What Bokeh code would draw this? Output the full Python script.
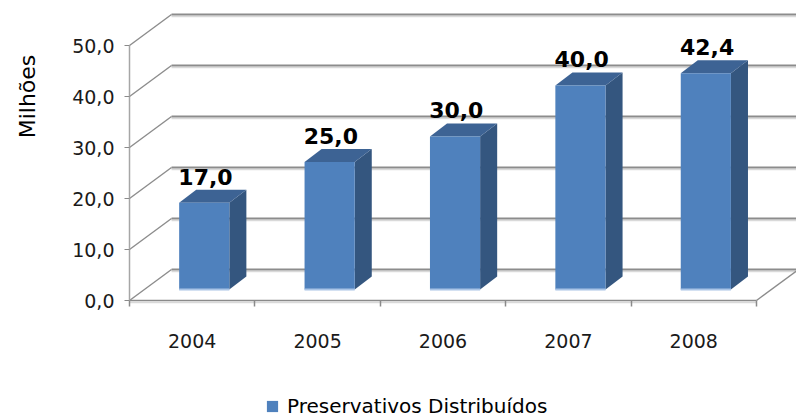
import numpy as np
from bokeh.plotting import figure
from bokeh.models import (Range1d, FixedTicker, CustomJSTickFormatter, ColumnDataSource,
                          Legend, LegendItem, Label)
from bokeh.core.properties import value
from bokeh.embed import file_html
from bokeh.resources import INLINE

# ---------------- data ----------------
years = ["2004", "2005", "2006", "2007", "2008"]
condoms = [17.0, 25.0, 30.0, 40.0, 42.4]
y_ticks = [0, 10, 20, 30, 40, 50]
y_tick_labels = ["0,0", "10,0", "20,0", "30,0", "40,0", "50,0"]
series_name = "Preservativos Distribuídos"
y_title = "Milhões"

# ---------------- layout (pixels) ----------------
W, H = 796, 418
ORIGIN_X, ORIGIN_Y = 129, 300      # where (0, 0) of the chart sits on the canvas
CAT_PX, VAL_PX = 125.4, 5.1        # pixels per category / per unit

# ---------------- 3D projection constants (axis units) ----------------
WALL_DX, WALL_DY = 0.335, 6.08     # back wall offset
FACE_DX, FACE_DY = 0.096, 2.16     # bar front plane offset
SIDE_DX, SIDE_DY = 0.136, 2.55     # bar depth
BAR_W = 0.4
SHADOW = 2 / VAL_PX                # light shadow under gridlines (2 px)

FONT = "DejaVu Sans"
GRID = "#8C8C8C"
GRID_SHADOW = "#D9D9D9"
AXIS = "#8A8A8A"
FRONT = "#4F81BD"
SIDE = "#34567F"
TOP = "#3D6394"

n = len(years)

p = figure(width=W, height=H, output_backend="svg", toolbar_location=None,
           x_range=Range1d(-ORIGIN_X / CAT_PX, (W - ORIGIN_X) / CAT_PX),
           y_range=Range1d(-(H - ORIGIN_Y) / VAL_PX, ORIGIN_Y / VAL_PX),
           min_border_left=0, min_border_right=0, min_border_top=0, min_border_bottom=0)
p.outline_line_color = None
p.xgrid.grid_line_color = None
p.ygrid.grid_line_color = None
p.background_fill_color = "white"
p.border_fill_color = "white"

# ---------------- walls / gridlines ----------------
back_xs, back_ys, sh_ys, diag_xs, diag_ys = [], [], [], [], []
for t in y_ticks:
    back_xs.append([WALL_DX, n + WALL_DX])
    back_ys.append([t + WALL_DY, t + WALL_DY])
    sh_ys.append([t + WALL_DY - SHADOW, t + WALL_DY - SHADOW])
    diag_xs.append([0, WALL_DX])
    diag_ys.append([t, t + WALL_DY])
# floor right edge
diag_xs.append([n, n + WALL_DX])
diag_ys.append([0, WALL_DY])

p.multi_line(back_xs, sh_ys, line_color=GRID_SHADOW, line_width=1.5)
p.multi_line(back_xs, back_ys, line_color=GRID, line_width=2)
p.multi_line(diag_xs, diag_ys, line_color=GRID, line_width=1.4)
p.line([0, n], [-SHADOW, -SHADOW], line_color=GRID_SHADOW, line_width=1.5)

# ---------------- bars ----------------
fx, fy, sx, sy, tx, ty, bx, by = [], [], [], [], [], [], [], []
lab_x, lab_y, lab_t = [], [], []
for i, v in enumerate(condoms):
    cx = i + 0.5 + FACE_DX
    xl, xr = cx - BAR_W / 2, cx + BAR_W / 2
    y0, y1 = FACE_DY, FACE_DY + v
    fx.append([xl, xr, xr, xl]); fy.append([y0, y0, y1, y1])
    sx.append([xr, xr + SIDE_DX, xr + SIDE_DX, xr]); sy.append([y0, y0 + SIDE_DY, y1 + SIDE_DY, y1])
    tx.append([xl, xl + SIDE_DX, xr + SIDE_DX, xr]); ty.append([y1, y1 + SIDE_DY, y1 + SIDE_DY, y1])
    bx.append([xl, xr]); by.append([y0, y0])
    lab_x.append(cx + 0.01)
    lab_y.append(y1 + SIDE_DY)
    lab_t.append(f"{v:.1f}".replace(".", ","))

p.patches(sx, sy, fill_color=SIDE, line_color=None)
p.patches(tx, ty, fill_color=TOP, line_color=None)
front_r = p.patches(fx, fy, fill_color=FRONT, line_color=None)
p.multi_line(bx, by, line_color="#A9C4E6", line_width=2)

src = ColumnDataSource(dict(x=lab_x, y=lab_y, t=lab_t))
p.text(x="x", y="y", text="t", source=src, text_font=value(FONT), text_font_style="bold",
       text_font_size="22px", text_align="center", text_baseline="alphabetic",
       y_offset=-13, text_color="#000000")

# ---------------- axes (drawn at the chart origin) ----------------
xa = p.xaxis[0]
xa.fixed_location = 0
xa.ticker = FixedTicker(ticks=[i + 0.5 for i in range(n)], minor_ticks=list(range(n + 1)))
xa.formatter = CustomJSTickFormatter(args=dict(labels=years),
                                     code="const k = Math.round(tick - 0.5); return (k >= 0 && k < labels.length) ? labels[k] : '';")
xa.bounds = (0, n)
xa.axis_line_color = AXIS
xa.axis_line_width = 1.5
xa.major_tick_out = 0
xa.major_tick_in = 0
xa.minor_tick_out = 6
xa.minor_tick_in = 0
xa.minor_tick_line_color = AXIS
xa.minor_tick_line_width = 1.5
xa.major_label_standoff = 27
xa.major_label_text_font = FONT
xa.major_label_text_font_size = "19px"
xa.major_label_text_color = "#1a1a1a"

ya = p.yaxis[0]
ya.fixed_location = 0
ya.ticker = FixedTicker(ticks=y_ticks)
ya.major_label_overrides = dict(zip(y_ticks, y_tick_labels))
ya.bounds = (0, y_ticks[-1])
ya.axis_line_color = "#A6A6A6"
ya.axis_line_width = 1.5
ya.major_tick_out = 5
ya.major_tick_in = 0
ya.major_tick_line_color = AXIS
ya.minor_tick_line_color = None
ya.major_label_standoff = 10
ya.major_label_text_font = FONT
ya.major_label_text_font_size = "19px"
ya.major_label_text_color = "#1a1a1a"

p.add_layout(Label(x=27, y=H - 96, x_units="screen", y_units="screen", angle=np.pi / 2,
                   text=y_title, text_align="center", text_baseline="middle",
                   text_font=FONT, text_font_size="22px", text_color="#000000"))

# ---------------- legend ----------------
legend = Legend(items=[LegendItem(label=series_name, renderers=[front_r])],
                location=(265, 0), orientation="horizontal", padding=0, margin=0,
                border_line_color=None, background_fill_alpha=0,
                glyph_width=14, glyph_height=14, label_standoff=8, label_height=18,
                label_text_font=FONT, label_text_font_size="20px", label_text_color="#000000",
                spacing=0)
p.add_layout(legend)

open("out.html", "w").write(file_html(p, INLINE))
